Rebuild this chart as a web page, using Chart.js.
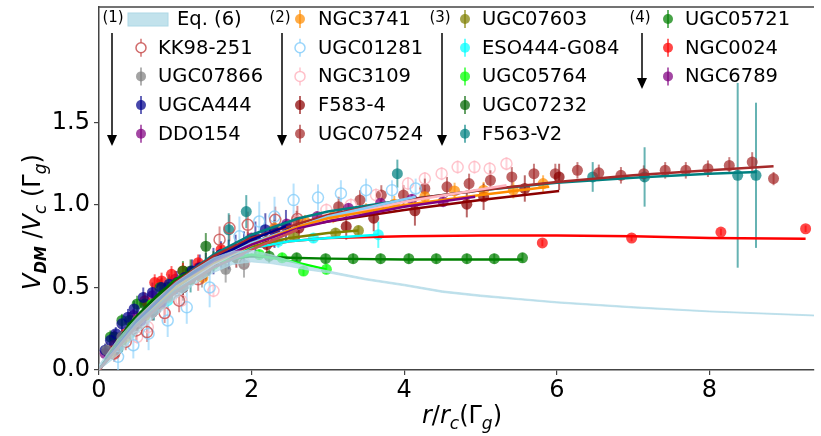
<!DOCTYPE html>
<html>
<head>
<meta charset="utf-8">
<script src="https://cdn.jsdelivr.net/npm/chart.js@4.4.1/dist/chart.umd.min.js"></script>
<style>
  html, body { margin: 0; padding: 0; background: #fff; }
  canvas { display: block; }
</style>
</head>
<body>
<canvas id="chart" width="821" height="436"></canvas>
<script>
// axis ticks
const xTickVals = [0, 2, 4, 6, 8];
const yTickVals = [0, 0.5, 1.0, 1.5];

// Eq. (6) band
const bandX  = [0, 0.25, 0.5, 0.75, 1, 1.25, 1.5, 1.75, 2, 2.25, 2.5, 2.75, 3, 3.5, 4, 4.5, 5, 5.5, 6, 7, 8, 9.4];
const bandUp = [0.03, 0.19, 0.32, 0.43, 0.53, 0.61, 0.68, 0.72, 0.725, 0.70, 0.663, 0.625, 0.601, 0.555, 0.52, 0.48, 0.455, 0.434, 0.414, 0.384, 0.358, 0.333];
const bandLo = [0, 0.09, 0.22, 0.33, 0.43, 0.52, 0.59, 0.64, 0.655, 0.645, 0.627, 0.605, 0.589, 0.545, 0.51, 0.47, 0.445, 0.426, 0.406, 0.376, 0.352, 0.327];

// group (1)
const kk98X = [0.2, 0.35, 0.49, 0.63, 0.86, 1.05, 1.3, 1.58, 1.71, 1.95, 2.31, 2.6];
const kk98Y = [0.10, 0.17, 0.24, 0.23, 0.345, 0.42, 0.55, 0.79, 0.86, 0.88, 0.91, 0.915];
const kk98E = [0.05, 0.05, 0.06, 0.06, 0.06, 0.07, 0.07, 0.08, 0.08, 0.08, 0.08, 0.08];
const kk98FitX = [0, 0.5, 1, 1.5, 2, 2.6];
const kk98FitY = [0, 0.27, 0.47, 0.62, 0.73, 0.85];

const u7866X = [0.1, 0.3, 0.5, 0.7, 0.9, 1.1, 1.35, 1.66, 1.9];
const u7866Y = [0.12, 0.20, 0.30, 0.37, 0.44, 0.50, 0.58, 0.61, 0.64];
const u7866E = [0.05, 0.06, 0.06, 0.07, 0.07, 0.08, 0.08, 0.08, 0.08];
const u7866FitX = [0, 0.5, 1, 1.5, 1.9];
const u7866FitY = [0, 0.28, 0.48, 0.62, 0.70];

const ua444X = [0.08, 0.15, 0.22, 0.3, 0.38, 0.46, 0.58, 0.7, 0.82, 0.92, 1.02, 1.12, 1.22, 1.32, 1.4, 1.5, 1.6, 1.7, 1.79, 1.9, 2.05, 2.18, 2.3, 2.45];
const ua444Y = [0.12, 0.18, 0.22, 0.28, 0.32, 0.37, 0.44, 0.47, 0.50, 0.52, 0.53, 0.56, 0.60, 0.62, 0.63, 0.66, 0.70, 0.70, 0.73, 0.75, 0.80, 0.85, 0.84, 0.87];
const ua444E = [0.04, 0.04, 0.04, 0.05, 0.05, 0.05, 0.06, 0.06, 0.06, 0.06, 0.07, 0.07, 0.07, 0.08, 0.08, 0.08, 0.08, 0.09, 0.09, 0.09, 0.1, 0.1, 0.1, 0.1];
const ua444FitX = [0, 0.5, 1, 1.5, 2, 2.45];
const ua444FitY = [0, 0.30, 0.52, 0.67, 0.79, 0.87];

const ddo154X = [0.08, 0.3, 0.55, 0.82, 1.23, 1.6, 2.0, 2.46, 2.86, 3.27, 3.69, 4.10, 4.51];
const ddo154Y = [0.10, 0.20, 0.30, 0.41, 0.575, 0.70, 0.80, 0.885, 0.93, 0.98, 1.01, 1.035, 1.02];
const ddo154E = [0.03, 0.03, 0.03, 0.03, 0.03, 0.03, 0.03, 0.03, 0.03, 0.03, 0.03, 0.03, 0.03];
const ddo154FitX = [0, 0.5, 1, 1.5, 2, 2.62, 3, 4, 4.93];
const ddo154FitY = [0, 0.30, 0.52, 0.66, 0.76, 0.86, 0.90, 0.99, 1.05];

// group (2)
const n3741X = [0.15, 0.35, 0.6, 0.9, 1.1, 1.36, 1.65, 2.0, 2.3, 2.7, 3.07, 3.5, 3.87, 4.27, 4.66, 5.04, 5.43, 5.82];
const n3741Y = [0.10, 0.20, 0.33, 0.45, 0.52, 0.56, 0.68, 0.79, 0.86, 0.90, 0.93, 0.97, 1.005, 1.05, 1.085, 1.09, 1.09, 1.13];
const n3741E = [0.03, 0.03, 0.04, 0.04, 0.04, 0.04, 0.04, 0.04, 0.04, 0.04, 0.04, 0.04, 0.05, 0.05, 0.05, 0.05, 0.05, 0.05];
const n3741FitX = [0, 0.5, 1, 1.5, 2, 2.62, 3, 4, 5, 5.9];
const n3741FitY = [0, 0.28, 0.50, 0.65, 0.76, 0.87, 0.92, 1.00, 1.06, 1.11];

const u1281X = [0.25, 0.45, 0.65, 0.9, 1.15, 1.45, 1.84, 2.10, 2.30, 2.55, 2.87, 3.17, 3.50, 3.84, 4.15];
const u1281Y = [0.08, 0.15, 0.22, 0.30, 0.38, 0.50, 0.81, 0.90, 0.93, 1.03, 1.045, 1.07, 1.09, 1.09, 1.10];
const u1281E = [0.08, 0.08, 0.1, 0.1, 0.1, 0.12, 0.12, 0.12, 0.12, 0.1, 0.08, 0.08, 0.07, 0.06, 0.06];
const u1281FitX = [0, 0.5, 1, 1.5, 2, 3, 4.15];
const u1281FitY = [0, 0.28, 0.50, 0.66, 0.77, 0.93, 1.05];

const n3109X = [0.5, 0.64, 0.86, 1.08, 1.5, 1.9, 2.3, 2.6, 2.98, 3.3, 3.63, 4.05, 4.27, 4.49, 4.70, 4.92, 5.12, 5.34];
const n3109Y = [0.20, 0.26, 0.345, 0.42, 0.48, 0.65, 0.80, 0.90, 0.97, 1.00, 1.06, 1.13, 1.16, 1.19, 1.23, 1.23, 1.22, 1.25];
const n3109E = [0.04, 0.04, 0.04, 0.04, 0.04, 0.04, 0.04, 0.04, 0.04, 0.04, 0.04, 0.04, 0.04, 0.04, 0.04, 0.04, 0.04, 0.04];
const n3109FitX = [0, 0.5, 1, 1.5, 2, 3, 4, 5.34];
const n3109FitY = [0, 0.27, 0.48, 0.64, 0.76, 0.92, 1.02, 1.12];

const f5834X = [0.2, 0.5, 0.8, 1.1, 1.4, 1.8, 2.2, 2.62, 3.24, 3.6, 4.14, 4.82, 5.04, 5.58, 6.03];
const f5834Y = [0.12, 0.28, 0.40, 0.50, 0.60, 0.68, 0.76, 0.86, 0.87, 0.92, 0.965, 1.005, 1.05, 1.10, 1.17];
const f5834E = [0.05, 0.05, 0.05, 0.06, 0.06, 0.06, 0.07, 0.07, 0.08, 0.08, 0.09, 0.08, 0.08, 0.08, 0.08];
const f5834FitX = [0, 0.5, 1, 1.5, 2, 2.62, 3, 4, 5, 6.03];
const f5834FitY = [0, 0.28, 0.50, 0.65, 0.77, 0.87, 0.90, 0.97, 1.03, 1.085];

const u7524X = [0.2, 0.45, 0.7, 1.0, 1.3, 1.6, 1.95, 2.3, 2.59, 3.14, 3.42, 3.70, 3.99, 4.27, 4.56, 4.85, 5.13, 5.41, 5.70, 5.98, 6.27, 6.55, 6.84, 7.14, 7.42, 7.69, 7.98, 8.26, 8.56, 8.84];
const u7524Y = [0.15, 0.25, 0.35, 0.50, 0.60, 0.70, 0.78, 0.85, 0.905, 0.99, 1.03, 1.06, 1.06, 1.10, 1.11, 1.13, 1.15, 1.17, 1.19, 1.19, 1.21, 1.195, 1.18, 1.19, 1.21, 1.21, 1.22, 1.24, 1.26, 1.16];
const u7524E = [0.05, 0.05, 0.05, 0.05, 0.06, 0.06, 0.06, 0.06, 0.06, 0.06, 0.06, 0.06, 0.06, 0.06, 0.06, 0.06, 0.06, 0.06, 0.06, 0.06, 0.05, 0.05, 0.05, 0.05, 0.05, 0.05, 0.05, 0.05, 0.06, 0.04];
const u7524FitX = [0, 0.5, 1, 1.5, 2, 3, 4, 5, 6, 7, 8, 8.84];
const u7524FitY = [0, 0.30, 0.53, 0.69, 0.80, 0.94, 1.03, 1.09, 1.14, 1.18, 1.21, 1.235];

// group (3)
const u7603X = [0.3, 0.6, 0.9, 1.2, 1.5, 1.85, 2.2, 2.55, 3.10, 3.40];
const u7603Y = [0.18, 0.33, 0.45, 0.55, 0.65, 0.72, 0.78, 0.81, 0.83, 0.845];
const u7603E = [0.03, 0.03, 0.03, 0.03, 0.03, 0.03, 0.03, 0.03, 0.03, 0.03];
const u7603FitX = [0, 0.5, 1, 1.5, 2, 2.5, 3, 3.4];
const u7603FitY = [0, 0.30, 0.52, 0.66, 0.75, 0.80, 0.83, 0.845];

const esoX = [0.4, 0.9, 1.4, 1.9, 2.35, 2.81, 3.66];
const esoY = [0.22, 0.42, 0.60, 0.72, 0.78, 0.80, 0.82];
const esoE = [0.03, 0.03, 0.04, 0.04, 0.04, 0.03, 0.08];
const esoFitX = [0, 0.5, 1, 1.5, 2, 2.5, 3, 3.66];
const esoFitY = [0, 0.30, 0.52, 0.66, 0.74, 0.78, 0.80, 0.82];

const u5764X = [0.3, 0.7, 1.1, 1.5, 1.8, 2.10, 2.40, 2.68, 2.98];
const u5764Y = [0.20, 0.40, 0.55, 0.64, 0.68, 0.70, 0.68, 0.60, 0.61];
const u5764E = [0.03, 0.03, 0.03, 0.03, 0.03, 0.03, 0.03, 0.03, 0.03];
const u5764FitX = [0, 0.5, 1, 1.5, 2, 2.5, 2.98];
const u5764FitY = [0, 0.30, 0.52, 0.65, 0.70, 0.66, 0.61];

const u7232X = [0.2, 0.4, 0.6, 0.9, 1.2, 1.4];
const u7232Y = [0.20, 0.30, 0.40, 0.50, 0.60, 0.75];
const u7232E = [0.04, 0.05, 0.05, 0.06, 0.07, 0.08];
const u7232FitX = [0, 0.4, 0.8, 1.2];
const u7232FitY = [0, 0.28, 0.47, 0.60];

const f563X = [0.25, 0.72, 1.2, 1.70, 1.93, 3.91, 6.47, 7.15, 8.37, 8.61];
const f563Y = [0.13, 0.36, 0.55, 0.85, 0.96, 1.19, 1.17, 1.17, 1.18, 1.18];
const f563E = [0.05, 0.06, 0.08, 0.10, 0.10, 0.085, 0.09, 0.18, 0.56, 0.44];
const f563FitX = [0, 0.5, 1, 1.5, 2, 2.62, 3, 4, 5, 6, 7, 8, 8.62];
const f563FitY = [0, 0.30, 0.53, 0.70, 0.82, 0.92, 0.96, 1.03, 1.09, 1.135, 1.165, 1.19, 1.20];

// group (4)
const u5721X = [0.15, 0.3, 0.5, 0.8, 1.1, 1.5, 1.85, 2.23, 2.59, 2.97, 3.33, 3.69, 4.06, 4.42, 4.82, 5.18, 5.55];
const u5721Y = [0.20, 0.30, 0.40, 0.50, 0.60, 0.66, 0.70, 0.69, 0.68, 0.675, 0.675, 0.675, 0.675, 0.675, 0.675, 0.675, 0.68];
const u5721E = [0.04, 0.04, 0.05, 0.05, 0.06, 0.06, 0.05, 0.04, 0.03, 0.03, 0.03, 0.03, 0.03, 0.03, 0.03, 0.03, 0.03];
const u5721FitX = [0, 0.5, 1, 1.5, 2, 2.5, 3, 4, 5, 5.55];
const u5721FitY = [0, 0.33, 0.55, 0.66, 0.69, 0.68, 0.675, 0.67, 0.67, 0.67];

const n0024X = [0.19, 0.35, 0.5, 0.6, 0.73, 0.82, 0.95, 1.1, 1.3, 1.6, 1.9, 2.27, 5.81, 6.98, 8.15, 9.26];
const n0024Y = [0.10, 0.22, 0.30, 0.42, 0.53, 0.54, 0.58, 0.60, 0.65, 0.73, 0.76, 0.78, 0.77, 0.80, 0.836, 0.856];
const n0024E = [0.03, 0.04, 0.05, 0.05, 0.05, 0.05, 0.05, 0.05, 0.05, 0.04, 0.04, 0.03, 0.02, 0.02, 0.02, 0.02];
const n0024FitX = [0, 0.25, 0.5, 0.75, 1, 1.5, 2, 2.5, 3, 4, 5, 6, 7, 8, 9.26];
const n0024FitY = [0, 0.16, 0.31, 0.43, 0.53, 0.66, 0.74, 0.78, 0.80, 0.81, 0.815, 0.815, 0.81, 0.80, 0.795];

const n6789X = [0.2, 0.45, 0.7, 1.0, 1.3, 1.6, 1.95];
const n6789Y = [0.20, 0.33, 0.45, 0.55, 0.62, 0.68, 0.75];
const n6789E = [0.04, 0.04, 0.05, 0.05, 0.05, 0.05, 0.05];
const n6789FitX = [0, 0.5, 1, 1.5, 1.95];
const n6789FitY = [0, 0.30, 0.52, 0.66, 0.74];

const galaxies = [
  { name: 'KK98-251',    x: kk98X,   y: kk98Y,   e: kk98E,   fx: kk98FitX,   fy: kk98FitY,   rgb: '200,80,80',   open: true },
  { name: 'UGC07866',    x: u7866X,  y: u7866Y,  e: u7866E,  fx: u7866FitX,  fy: u7866FitY,  rgb: '128,128,128' },
  { name: 'UGCA444',     x: ua444X,  y: ua444Y,  e: ua444E,  fx: ua444FitX,  fy: ua444FitY,  rgb: '0,0,139' },
  { name: 'DDO154',      x: ddo154X, y: ddo154Y, e: ddo154E, fx: ddo154FitX, fy: ddo154FitY, rgb: '128,0,128' },
  { name: 'NGC3741',     x: n3741X,  y: n3741Y,  e: n3741E,  fx: n3741FitX,  fy: n3741FitY,  rgb: '255,140,0' },
  { name: 'UGC01281',    x: u1281X,  y: u1281Y,  e: u1281E,  fx: u1281FitX,  fy: u1281FitY,  rgb: '135,206,250', open: true },
  { name: 'NGC3109',     x: n3109X,  y: n3109Y,  e: n3109E,  fx: n3109FitX,  fy: n3109FitY,  rgb: '255,182,193', open: true },
  { name: 'F583-4',      x: f5834X,  y: f5834Y,  e: f5834E,  fx: f5834FitX,  fy: f5834FitY,  rgb: '139,0,0' },
  { name: 'UGC07524',    x: u7524X,  y: u7524Y,  e: u7524E,  fx: u7524FitX,  fy: u7524FitY,  rgb: '165,42,42' },
  { name: 'UGC07603',    x: u7603X,  y: u7603Y,  e: u7603E,  fx: u7603FitX,  fy: u7603FitY,  rgb: '128,128,0' },
  { name: 'ESO444-G084', x: esoX,    y: esoY,    e: esoE,    fx: esoFitX,    fy: esoFitY,    rgb: '0,255,255' },
  { name: 'UGC05764',    x: u5764X,  y: u5764Y,  e: u5764E,  fx: u5764FitX,  fy: u5764FitY,  rgb: '0,255,0' },
  { name: 'UGC07232',    x: u7232X,  y: u7232Y,  e: u7232E,  fx: u7232FitX,  fy: u7232FitY,  rgb: '0,100,0' },
  { name: 'F563-V2',     x: f563X,   y: f563Y,   e: f563E,   fx: f563FitX,   fy: f563FitY,   rgb: '0,128,128' },
  { name: 'UGC05721',    x: u5721X,  y: u5721Y,  e: u5721E,  fx: u5721FitX,  fy: u5721FitY,  rgb: '0,128,0' },
  { name: 'NGC0024',     x: n0024X,  y: n0024Y,  e: n0024E,  fx: n0024FitX,  fy: n0024FitY,  rgb: '255,0,0' },
  { name: 'NGC6789',     x: n6789X,  y: n6789Y,  e: n6789E,  fx: n6789FitX,  fy: n6789FitY,  rgb: '128,0,128' }
];

const legendCols = [
  { tag: '(1)', tagX: 113, arrowX: 112, arrowEnd: 146, markX: 141, textX: 158, startRow: 1, items: ['KK98-251', 'UGC07866', 'UGCA444', 'DDO154'] },
  { tag: '(2)', tagX: 280, arrowX: 282, arrowEnd: 146, markX: 300, textX: 318, startRow: 0, items: ['NGC3741', 'UGC01281', 'NGC3109', 'F583-4', 'UGC07524'] },
  { tag: '(3)', tagX: 440, arrowX: 442, arrowEnd: 146, markX: 465, textX: 482, startRow: 0, items: ['UGC07603', 'ESO444-G084', 'UGC05764', 'UGC07232', 'F563-V2'] },
  { tag: '(4)', tagX: 640, arrowX: 642, arrowEnd: 89,  markX: 668, textX: 685, startRow: 0, items: ['UGC05721', 'NGC0024', 'NGC6789'] }
];

const FONT = '"DejaVu Sans", sans-serif';
const pts = (xs, ys) => xs.map((v, i) => ({ x: v, y: ys[i] }));

const datasets = [];
// Eq. (6) band on top
datasets.push({
  data: pts(bandX, bandUp), showLine: true, pointRadius: 0, borderWidth: 0.8,
  borderColor: 'rgba(173,216,230,0.8)', fill: '+1', backgroundColor: 'rgba(173,216,230,0.75)', order: 0
});
datasets.push({
  data: pts(bandX, bandLo), showLine: true, pointRadius: 0, borderWidth: 0.8,
  borderColor: 'rgba(173,216,230,0.8)', fill: false, order: 0
});
galaxies.forEach(g => {
  datasets.push({
    data: pts(g.fx, g.fy), showLine: true, pointRadius: 0, borderWidth: 2.5,
    borderColor: 'rgb(' + g.rgb + ')', fill: false, order: 1
  });
});
galaxies.forEach(g => {
  datasets.push({
    data: pts(g.x, g.y), showLine: false, pointRadius: 5.5, pointHoverRadius: 5.5,
    pointBorderWidth: g.open ? 1.5 : 0,
    pointBackgroundColor: g.open ? 'rgba(255,255,255,0)' : 'rgba(' + g.rgb + ',0.72)',
    pointBorderColor: 'rgba(' + g.rgb + ',0.8)',
    errs: g.e, errColor: 'rgba(' + g.rgb + ',0.6)', order: 2
  });
});

const errorBars = {
  id: 'errorBars',
  beforeDatasetsDraw(chart) {
    const { ctx, chartArea, scales: { x, y } } = chart;
    ctx.save();
    ctx.beginPath();
    ctx.rect(chartArea.left, chartArea.top, chartArea.right - chartArea.left, chartArea.bottom - chartArea.top);
    ctx.clip();
    ctx.lineWidth = 2;
    chart.data.datasets.forEach(ds => {
      if (!ds.errs) return;
      ctx.strokeStyle = ds.errColor;
      ds.data.forEach((p, j) => {
        const px = x.getPixelForValue(p.x);
        ctx.beginPath();
        ctx.moveTo(px, y.getPixelForValue(p.y - ds.errs[j]));
        ctx.lineTo(px, y.getPixelForValue(p.y + ds.errs[j]));
        ctx.stroke();
      });
    });
    ctx.restore();
  }
};

function drawPieces(ctx, pieces, cx, baseY) {
  let total = 0;
  pieces.forEach(p => { ctx.font = p[1]; total += ctx.measureText(p[0]).width; });
  let xx = cx - total / 2;
  pieces.forEach(p => {
    ctx.font = p[1];
    ctx.fillText(p[0], xx, baseY + (p[2] || 0));
    xx += ctx.measureText(p[0]).width;
  });
}

const decorations = {
  id: 'decorations',
  afterDraw(chart) {
    const { ctx, chartArea } = chart;
    ctx.save();
    // top spine
    ctx.strokeStyle = '#444';
    ctx.lineWidth = 1.5;
    ctx.beginPath();
    ctx.moveTo(chartArea.left, chartArea.top);
    ctx.lineTo(chartArea.right, chartArea.top);
    ctx.stroke();

    ctx.fillStyle = '#000';
    ctx.textBaseline = 'alphabetic';
    // x title
    drawPieces(ctx, [
      ['r', 'italic 24px ' + FONT], ['/', '24px ' + FONT], ['r', 'italic 24px ' + FONT],
      ['c', 'italic 17px ' + FONT, 6], ['(Γ', '24px ' + FONT], ['g', 'italic 17px ' + FONT, 6], [')', '24px ' + FONT]
    ], 462, 423);
    // y title
    ctx.save();
    ctx.translate(40, 222);
    ctx.rotate(-Math.PI / 2);
    drawPieces(ctx, [
      ['V', 'italic 24px ' + FONT], ['DM', 'italic bold 15px ' + FONT, 6], [' /', '24px ' + FONT],
      ['V', 'italic 24px ' + FONT], ['c', 'italic 17px ' + FONT, 6], [' (Γ', '24px ' + FONT],
      ['g', 'italic 17px ' + FONT, 6], [')', '24px ' + FONT]
    ], 0, 0);
    ctx.restore();

    // legend
    const rowY = r => 19 + r * 28.7;
    ctx.textBaseline = 'middle';
    legendCols.forEach(col => {
      ctx.fillStyle = '#000';
      ctx.font = '15px ' + FONT;
      ctx.textAlign = 'center';
      ctx.fillText(col.tag, col.tagX, 18);
      ctx.strokeStyle = '#000';
      ctx.lineWidth = 1.5;
      ctx.beginPath();
      ctx.moveTo(col.arrowX, 33);
      ctx.lineTo(col.arrowX, col.arrowEnd - 8);
      ctx.stroke();
      ctx.beginPath();
      ctx.moveTo(col.arrowX - 5, col.arrowEnd - 11);
      ctx.lineTo(col.arrowX + 5, col.arrowEnd - 11);
      ctx.lineTo(col.arrowX, col.arrowEnd);
      ctx.closePath();
      ctx.fill();

      ctx.textAlign = 'left';
      col.items.forEach((name, i) => {
        const g = galaxies.find(q => q.name === name);
        const yy = rowY(col.startRow + i);
        ctx.strokeStyle = 'rgba(' + g.rgb + ',0.6)';
        ctx.lineWidth = 2;
        ctx.beginPath();
        ctx.moveTo(col.markX, yy - 9);
        ctx.lineTo(col.markX, yy + 9);
        ctx.stroke();
        ctx.beginPath();
        ctx.arc(col.markX, yy, 5, 0, Math.PI * 2);
        if (g.open) {
          ctx.fillStyle = '#fff';
          ctx.fill();
          ctx.strokeStyle = 'rgba(' + g.rgb + ',0.85)';
          ctx.lineWidth = 1.5;
          ctx.stroke();
        } else {
          ctx.fillStyle = 'rgba(' + g.rgb + ',0.72)';
          ctx.fill();
        }
        ctx.fillStyle = '#000';
        ctx.font = '19.5px ' + FONT;
        ctx.fillText(name, col.textX, yy + 1);
      });
    });
    // Eq. (6) entry
    ctx.fillStyle = 'rgba(173,216,230,0.75)';
    ctx.fillRect(128, 13, 40, 13);
    ctx.strokeStyle = 'rgba(173,216,230,1)';
    ctx.lineWidth = 1;
    ctx.strokeRect(128, 13, 40, 13);
    ctx.fillStyle = '#000';
    ctx.font = '19.5px ' + FONT;
    ctx.textAlign = 'left';
    ctx.fillText('Eq. (6)', 177, rowY(0) + 1);
    ctx.restore();
  }
};

new Chart(document.getElementById('chart'), {
  type: 'scatter',
  data: { datasets: datasets },
  options: {
    responsive: false,
    animation: false,
    layout: { padding: { top: 7, left: 0, right: 0, bottom: 0 } },
    plugins: { legend: { display: false }, tooltip: { enabled: false } },
    scales: {
      x: {
        type: 'linear', min: 0, max: 9.37,
        afterBuildTicks: s => { s.ticks = xTickVals.map(v => ({ value: v })); },
        afterFit: s => { s.height = 66; s.paddingLeft = 0; s.paddingRight = 0; },
        ticks: { color: '#000', font: { family: FONT, size: 24 }, padding: 1, maxRotation: 0, callback: v => String(v) },
        grid: { drawOnChartArea: false, drawTicks: true, tickLength: 5, color: '#444', lineWidth: 1.2 },
        border: { display: true, color: '#444', width: 1.5 }
      },
      y: {
        type: 'linear', min: 0, max: 2.2,
        afterBuildTicks: s => { s.ticks = yTickVals.map(v => ({ value: v })); },
        afterFit: s => { s.width = 99; s.paddingTop = 0; s.paddingBottom = 0; },
        ticks: { color: '#000', font: { family: FONT, size: 24 }, padding: 4, callback: v => Number(v).toFixed(1) },
        grid: { drawOnChartArea: false, drawTicks: true, tickLength: 5, color: '#444', lineWidth: 1.2 },
        border: { display: true, color: '#444', width: 1.5 }
      }
    }
  },
  plugins: [errorBars, decorations]
});
</script>
</body>
</html>
